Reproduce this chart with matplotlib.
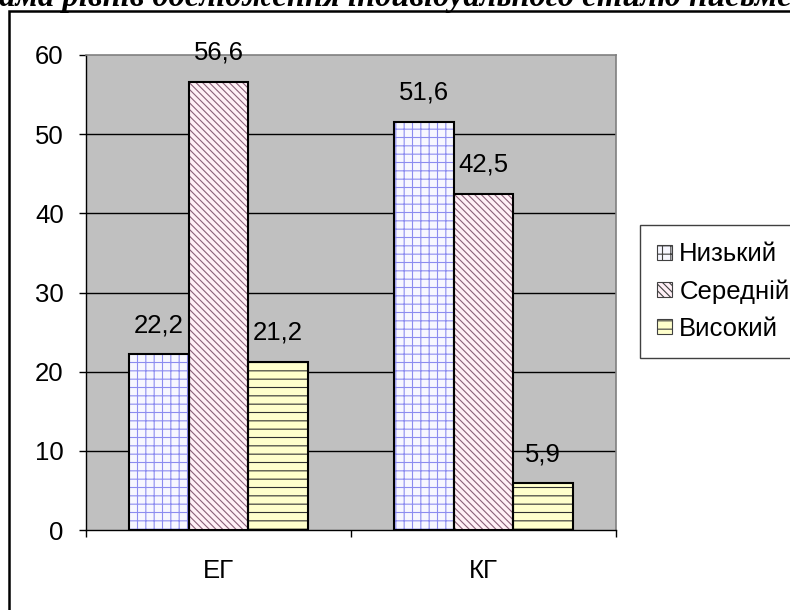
import matplotlib
matplotlib.use('Agg')
import matplotlib.pyplot as plt
from matplotlib.patches import Patch, Rectangle
import numpy as np

categories = ['ЕГ', 'КГ']
series_names = ['Низький', 'Середній', 'Високий']
nyzkyi = [22.2, 51.6]
serednii = [56.6, 42.5]
vysokyi = [21.2, 5.9]
y_ticks = [0, 10, 20, 30, 40, 50, 60]
title = 'Діаграма рівнів дослідження індивідуального стилю письменників'

plt.rcParams['font.family'] = ['Liberation Sans', 'DejaVu Sans']
plt.rcParams['hatch.linewidth'] = 0.8
FS = 18.5

W, H = 790, 610
fig = plt.figure(figsize=(W / 100, H / 100), dpi=100)
ax = fig.add_axes([86 / W, 1 - 530 / H, 530 / W, 475 / H])
ax.set_facecolor('#C0C0C0')

styles = [
    dict(face='#F7F7FF', hatch='++', hc='#8C8CF0'),
    dict(face='#FFF0F6', hatch='\\\\\\\\\\', hc='#8A6078'),
    dict(face='#FFFFCC', hatch='--', hc='#303030'),
]
series = [nyzkyi, serednii, vysokyi]
x = np.arange(len(categories))
w = 0.224

for i, (vals, st) in enumerate(zip(series, styles)):
    pos = x + (i - 1) * w
    ax.bar(pos, vals, w, color=st['face'], hatch=st['hatch'], edgecolor=st['hc'],
           linewidth=0, zorder=3)
    ax.bar(pos, vals, w, fill=False, edgecolor='black', linewidth=1.5, zorder=4)
    for p, v in zip(pos, vals):
        ax.annotate(f'{v}'.replace('.', ','), (p, v), xytext=(0, 16),
                    textcoords='offset points', ha='center', va='baseline',
                    fontsize=FS, zorder=5)

ax.set_ylim(0, 60)
ax.set_yticks(y_ticks)
ax.set_yticklabels([str(t) for t in y_ticks], fontsize=FS)
ax.yaxis.grid(True, color='black', linewidth=1)
ax.set_axisbelow(True)
gl = ax.get_ygridlines()
gl[-1].set_visible(False)
gl[0].set_visible(False)

ax.set_xlim(-0.5, len(categories) - 0.5)
ax.set_xticks(np.arange(len(categories) + 1) - 0.5)
ax.set_xticklabels([])
ax.set_xticks(x, minor=True)
ax.set_xticklabels(categories, minor=True, fontsize=FS)
ax.tick_params(axis='x', which='minor', length=0, pad=21)
ax.tick_params(axis='x', which='major', length=5, width=1, direction='out')
ax.tick_params(axis='y', length=5, width=1, pad=11, direction='out')

for s in ['top', 'right']:
    ax.spines[s].set_color('#808080')
    ax.spines[s].set_linewidth(1.2)
for s in ['left', 'bottom']:
    ax.spines[s].set_color('black')
    ax.spines[s].set_linewidth(1)

handles = [Patch(facecolor=st['face'], hatch=st['hatch'], edgecolor='#404040', linewidth=0.8)
           for st in styles]
leg = fig.legend(handles, series_names, loc='upper left',
                 bbox_to_anchor=(640 / W, 1 - 225 / H), bbox_transform=fig.transFigure,
                 fontsize=FS, frameon=True, fancybox=False, edgecolor='#404040',
                 framealpha=1, handlelength=0.55, handleheight=0.55,
                 handletextpad=0.3, labelspacing=0.5, borderpad=0.68, borderaxespad=0)
leg.get_frame().set_linewidth(1)

# outer frame
fig.add_artist(Rectangle((9 / W, -0.1), 1.2, 1.1 - 11 / H, transform=fig.transFigure,
                         fill=False, linewidth=1.8, edgecolor='black'))

# title (clipped at the top as in the reference)
renderer = fig.canvas.get_renderer()
tprops = dict(fontsize=23.5, family='Liberation Serif', fontweight='bold', fontstyle='italic')
pre = fig.text(0, 0, 'Діагр', **tprops)
wpx = pre.get_window_extent(renderer).width
pre.remove()
fig.text(-wpx / W, 1 - 6 / H, title, ha='left', va='baseline', **tprops)

fig.savefig('out.png', dpi=100)
